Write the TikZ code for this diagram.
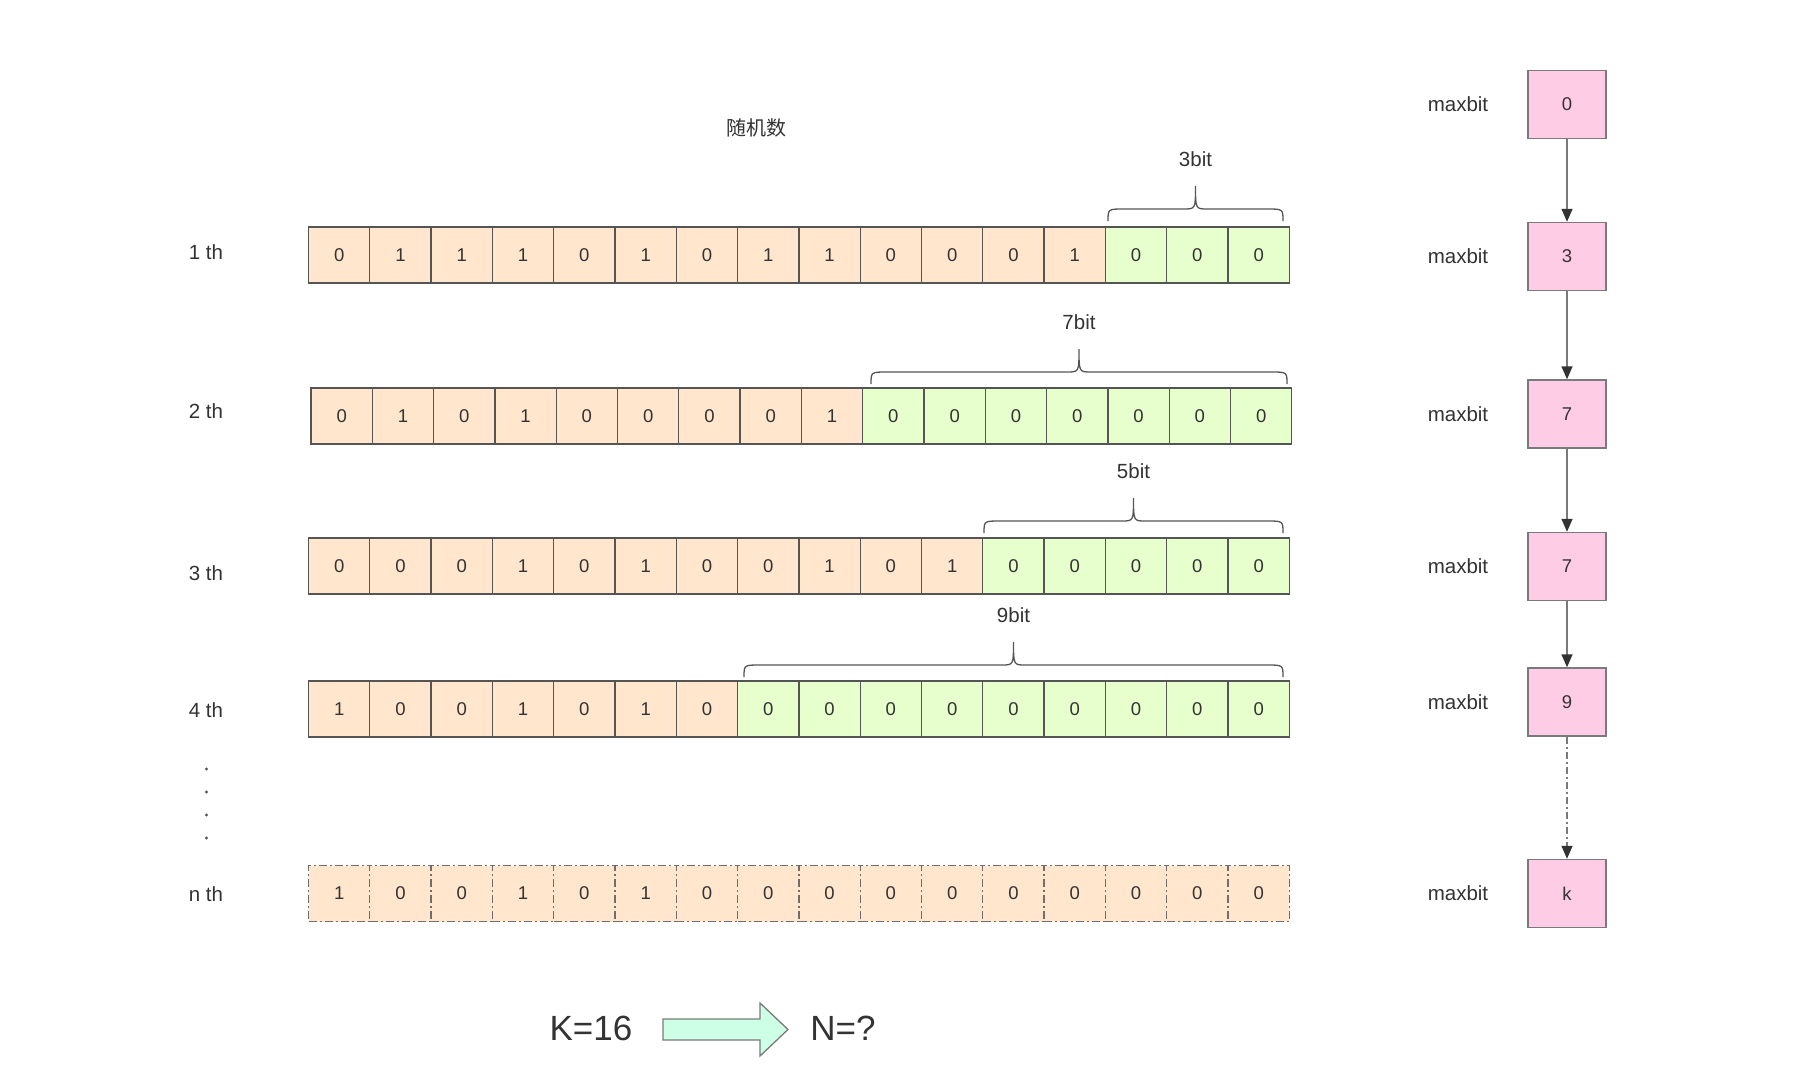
\documentclass[tikz,border=0pt]{standalone}
\usepackage{fontspec}
\setmainfont{Liberation Sans}
\newfontfamily\cjk{Noto Sans CJK SC}
\usetikzlibrary{arrows.meta}
\definecolor{orangefill}{HTML}{FFE6CC}
\definecolor{greenfill}{HTML}{E6FFCC}
\definecolor{pinkfill}{HTML}{FFCCE6}
\definecolor{mintfill}{HTML}{CCFFE6}
\definecolor{edge}{HTML}{555555}
\definecolor{pinkedge}{HTML}{7A7A7A}
\definecolor{txt}{HTML}{333333}
\begin{document}
\begin{tikzpicture}[x=1pt,y=-1pt,
 cellbox/.style={draw=edge, line width=1.3pt, minimum width=61.3pt, minimum height=56pt, inner sep=0pt, font=\fontsize{18.5}{20}\selectfont, text=txt},
 obit/.style={cellbox, fill=orangefill},
 gbit/.style={cellbox, fill=greenfill},
 nbit/.style={cellbox, fill=orangefill, draw=edge!85, dash pattern=on 8pt off 3pt on 2pt off 3pt},
 lbl/.style={font=\fontsize{20.5}{22}\selectfont, text=txt, inner sep=0pt},
 biglbl/.style={font=\fontsize{35}{40}\selectfont, text=txt, inner sep=0pt},
 maxbox/.style={draw=pinkedge, line width=1.5pt, fill=pinkfill, minimum width=78pt, minimum height=68pt, inner sep=0pt, font=\fontsize{18.5}{20}\selectfont, text=txt},
 link/.style={draw=pinkedge, line width=1.6pt, -{Triangle[length=13pt,width=11pt,color=txt]}},
 bracepath/.style={draw=edge, line width=1.3pt},
 dotmark/.style={fill=edge, draw=none},
]
\useasboundingbox (0,0) rectangle (1808,1084);
\fill[white] (0,0) rectangle (1808,1084);

% title
\node[lbl, font=\cjk\fontsize{20}{22}\selectfont] (title) at (756,128) {随机数};

% row labels
\node[lbl] (l1) at (206,252) {1 th};
\node[lbl] (l2) at (206,411) {2 th};
\node[lbl] (l3) at (206,573) {3 th};
\node[lbl] (l4) at (206,710) {4 th};
\node[lbl] (ln) at (206,894) {n th};
\foreach \yy [count=\k] in {769,792,815,838}
  \fill[dotmark] (206.5,\yy) circle (1.6pt);

% row 1
\foreach \d [count=\i from 0] in {0,1,1,1,0,1,0,1,1,0,0,0,1}
  \node[obit] (a-\i) at ({308.5+(\i+0.5)*61.3},255) {\d};
\foreach \i in {13,14,15}
  \node[gbit] (a-\i) at ({308.5+(\i+0.5)*61.3},255) {0};

% row 2
\foreach \d [count=\i from 0] in {0,1,0,1,0,0,0,0,1}
  \node[obit] (b-\i) at ({311+(\i+0.5)*61.3},416) {\d};
\foreach \i in {9,...,15}
  \node[gbit] (b-\i) at ({311+(\i+0.5)*61.3},416) {0};

% row 3
\foreach \d [count=\i from 0] in {0,0,0,1,0,1,0,0,1,0,1}
  \node[obit] (c-\i) at ({308.5+(\i+0.5)*61.3},566) {\d};
\foreach \i in {11,...,15}
  \node[gbit] (c-\i) at ({308.5+(\i+0.5)*61.3},566) {0};

% row 4
\foreach \d [count=\i from 0] in {1,0,0,1,0,1,0}
  \node[obit] (d-\i) at ({308.5+(\i+0.5)*61.3},709) {\d};
\foreach \i in {7,...,15}
  \node[gbit] (d-\i) at ({308.5+(\i+0.5)*61.3},709) {0};

% row n
\foreach \d [count=\i from 0] in {1,0,0,1,0,1,0,0,0,0,0,0,0,0,0,0}
  \node[nbit] (n-\i) at ({308.5+(\i+0.5)*61.3},893.5) {\d};

% braces
\foreach \xa/\xb/\yt/\txt in {1108/1283/186/3bit, 871/1287/349/7bit, 984/1283/498/5bit, 744/1283/642/9bit}{
  \pgfmathsetmacro{\xm}{(\xa+\xb)/2}
  \pgfmathsetmacro{\yh}{\yt+23}
  \pgfmathsetmacro{\yb}{\yt+35}
  \draw[bracepath] (\xa,\yb) .. controls (\xa,\yh) .. ({\xa+16},\yh) -- ({\xm-12},\yh)
     .. controls (\xm,\yh) .. (\xm,\yt) .. controls (\xm,\yh) .. ({\xm+12},\yh)
     -- ({\xb-16},\yh) .. controls (\xb,\yh) .. (\xb,\yb);
  \node[lbl] at (\xm,{\yt-27}) {\txt};
}

% maxbit chain
\node[maxbox] (m0) at (1567,104.5) {0};
\node[maxbox] (m1) at (1567,256.5) {3};
\node[maxbox] (m2) at (1567,414) {7};
\node[maxbox] (m3) at (1567,566.5) {7};
\node[maxbox] (m4) at (1567,702) {9};
\node[maxbox] (m5) at (1567,893.5) {k};
\foreach \m in {0,...,5}
  \node[lbl] (ml\m) at (1458,0 |- m\m) {maxbit};
\draw[link] (m0) -- (m1);
\draw[link] (m1) -- (m2);
\draw[link] (m2) -- (m3);
\draw[link] (m3) -- (m4);
\draw[link, dash pattern=on 7pt off 3pt on 2pt off 3pt] (m4) -- (m5);

% bottom
\node[biglbl] (K) at (591,1028) {K=16};
\node[biglbl] (N) at (843,1028) {N=?};
\draw[draw=pinkedge, line width=1.3pt, fill=mintfill, line join=miter]
  (663,1019) -- (760,1019) -- (760,1003) -- (788,1029.5) -- (760,1056) -- (760,1040) -- (663,1040) -- cycle;
\end{tikzpicture}
\end{document}
